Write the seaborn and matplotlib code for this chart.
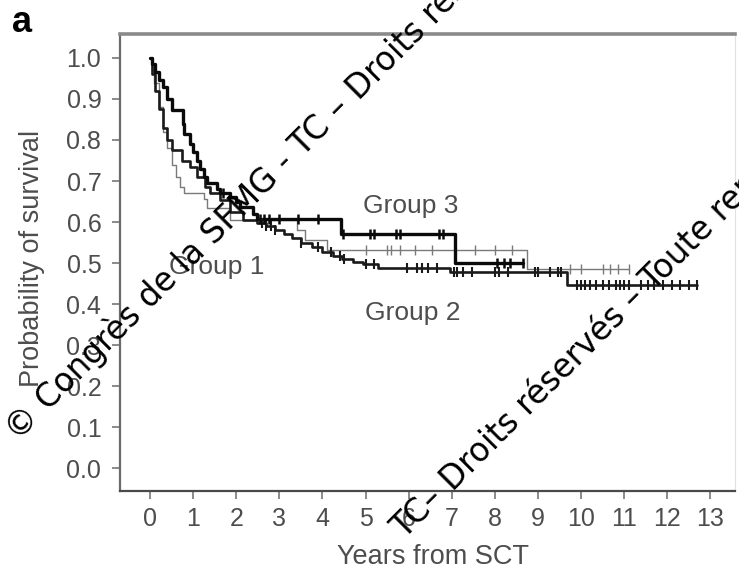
import numpy as np
import pandas as pd
import matplotlib
matplotlib.use("Agg")
import matplotlib.pyplot as plt
from matplotlib.ticker import FormatStrFormatter
import seaborn as sns

# Kaplan-Meier step estimates (time in years, survival after each step)
g1_time = [0, 0.05, 0.1, 0.2, 0.3, 0.4, 0.5, 0.6, 0.7, 0.8, 1.25, 1.32, 1.85,
           3.4, 3.6, 4.1, 8.75, 11.1]
g1_surv = [1.0, 0.97, 0.94, 0.88, 0.82, 0.78, 0.74, 0.71, 0.685, 0.67, 0.655,
           0.634, 0.605, 0.58, 0.556, 0.532, 0.485, 0.485]

g2_time = [0, 0.05, 0.12, 0.2, 0.3, 0.4, 0.51, 0.74, 0.93, 1.09, 1.28, 1.39,
           1.62, 1.86, 2.16, 2.48, 2.7, 2.9, 3.1, 3.3, 3.5, 3.75, 4.0, 4.25,
           4.45, 4.7, 4.95, 5.3, 6.96, 9.67, 12.7]
g2_surv = [1.0, 0.96, 0.92, 0.875, 0.83, 0.80, 0.775, 0.75, 0.735, 0.71, 0.685,
           0.67, 0.653, 0.625, 0.605, 0.597, 0.59, 0.58, 0.57, 0.56, 0.548,
           0.538, 0.528, 0.518, 0.51, 0.503, 0.497, 0.488, 0.478, 0.446, 0.446]

g3_time = [0, 0.05, 0.12, 0.2, 0.3, 0.4, 0.5, 0.77, 0.8, 0.93, 1.0, 1.1, 1.16,
           1.25, 1.32, 1.55, 1.62, 1.86, 2.0, 2.09, 2.39, 2.48, 4.42, 7.08, 8.65]
g3_surv = [1.0, 0.985, 0.965, 0.946, 0.93, 0.90, 0.873, 0.84, 0.815, 0.79, 0.77,
           0.75, 0.73, 0.71, 0.695, 0.68, 0.67, 0.66, 0.65, 0.636, 0.62, 0.608,
           0.571, 0.50, 0.50]

# Censoring times
g1_cens = [5.0, 5.5, 5.6, 5.8, 6.15, 6.55, 7.55, 8.0, 8.4, 9.75, 10.0, 10.5,
           10.67, 10.86, 11.1]
g2_cens = [2.6, 2.7, 2.8, 2.9, 3.5, 3.9, 4.2, 4.4, 4.5, 5.0, 5.2, 5.96, 6.2,
           6.3, 6.45, 6.65, 7.05, 7.12, 7.27, 7.47, 8.0, 8.1, 8.3, 8.93, 9.0,
           9.28, 9.46, 9.54, 9.9, 10.0, 10.1, 10.2, 10.35, 10.5, 10.65, 10.8,
           10.9, 11.0, 11.1, 11.4, 11.55, 11.7, 11.9, 12.1, 12.3, 12.5, 12.7]
g3_cens = [1.7, 2.55, 2.65, 2.75, 3.0, 3.43, 3.9, 4.48, 5.1, 5.2, 5.7, 5.8,
           6.7, 6.8, 8.05, 8.2, 8.35, 8.65]

x_ticks = list(range(0, 14))
y_ticks = [0.0, 0.1, 0.2, 0.3, 0.4, 0.5, 0.6, 0.7, 0.8, 0.9, 1.0]

sns.set_theme(style="white")
plt.rcParams["font.family"] = ["Liberation Sans", "DejaVu Sans"]

W, H = 739, 572
fig = plt.figure(figsize=(W / 100, H / 100), dpi=100)
ax = fig.add_axes([120 / W, 1 - 491 / H, (735 - 120) / W, (491 - 34) / H])

groups = [
    ("Group 1", g1_time, g1_surv, g1_cens, "#7a7a7a", 1.0, 1.0),
    ("Group 2", g2_time, g2_surv, g2_cens, "#1a1a1a", 1.9, 1.5),
    ("Group 3", g3_time, g3_surv, g3_cens, "#0a0a0a", 2.4, 1.8),
]

for name, t, s, c, col, lw, mw in groups:
    df = pd.DataFrame({"time": t, "surv": s})
    sns.lineplot(data=df, x="time", y="surv", drawstyle="steps-post",
                 estimator=None, sort=False, color=col, linewidth=lw,
                 legend=False, ax=ax)
    ta = np.asarray(t)
    sa = np.asarray(s)
    idx = np.searchsorted(ta, np.asarray(c), side="right") - 1
    cdf = pd.DataFrame({"time": c, "surv": sa[idx]})
    sns.scatterplot(data=cdf, x="time", y="surv", marker="|", s=50,
                    color=col, linewidth=mw, legend=False, ax=ax, zorder=3)

ax.set_xlim(-0.696, 13.57)
ax.set_ylim(-0.056, 1.0585)
ax.set_xticks(x_ticks)
ax.set_yticks(y_ticks)
ax.yaxis.set_major_formatter(FormatStrFormatter("%.1f"))
ax.tick_params(axis="both", direction="out", length=5.5, width=1.2,
               color="#777777", labelcolor="#4d4d4d", labelsize=18,
               bottom=True, left=True)
ax.tick_params(axis="x", pad=6)
ax.tick_params(axis="y", pad=8)

ax.set_xlabel("Years from SCT", fontsize=19.5, color="#4d4d4d")
ax.set_ylabel("Probability of survival", fontsize=19.5, color="#4d4d4d")
ax.xaxis.set_label_coords(0.509, -0.115)
ax.yaxis.set_label_coords(-0.122, 0.508)

for side, col, lw in [("top", "#8a8a8a", 2.6), ("left", "#6a6a6a", 1.6),
                      ("bottom", "#4a4a4a", 1.6), ("right", "#e2e2e2", 0.8)]:
    ax.spines[side].set_visible(True)
    ax.spines[side].set_color(col)
    ax.spines[side].set_linewidth(lw)

ax.text(6.05, 0.64, "Group 3", fontsize=19, color="#4d4d4d",
        ha="center", va="center")
ax.text(1.55, 0.49, "Group 1", fontsize=19, color="#4d4d4d",
        ha="center", va="center")
ax.text(6.1, 0.378, "Group 2", fontsize=19, color="#4d4d4d",
        ha="center", va="center")

fig.text(12 / W, 1 - 32 / H, "a", fontsize=26, fontweight="bold",
         color="black", ha="left", va="baseline")

# Diagonal copyright overlay: each line is split at "Droits" so it can be
# pinned at that word
wm_lines = [
    ((359, 101), "© Congrès de la SFMG - TC –",
     "Droits réservés – Toute reproduction interdite"),
    ((453, 492), "TC–",
     "Droits réservés – Toute reproduction interdite"),
]
wm_kw = dict(rotation=45, rotation_mode="anchor", va="baseline",
             fontsize=23.5, color="black", family="DejaVu Sans", zorder=10)
for (px, py), head, tail in wm_lines:
    fig.text(px / W, 1 - py / H, tail, ha="left", **wm_kw)
    fig.text((px - 8) / W, 1 - (py + 8) / H, head, ha="right", **wm_kw)

fig.savefig("out.png", dpi=100)
